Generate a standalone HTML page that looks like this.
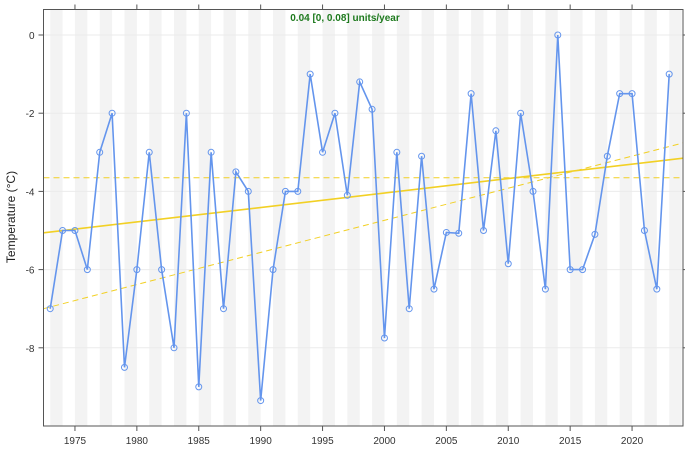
<!DOCTYPE html>
<html><head><meta charset="utf-8"><style>
body{margin:0;background:#fff;font-family:"Liberation Sans",sans-serif;}
</style></head><body>
<svg id="chart" width="685" height="449" xmlns="http://www.w3.org/2000/svg">
<g id="stripes"></g>
<g id="grid"></g>
<g id="trends"></g>
<g id="series"></g>
<g id="axes"></g>
<text x="345" y="21" text-anchor="middle" font-size="10" font-weight="bold" fill="#1e7a1e">0.04 [0, 0.08] units/year</text>
<text transform="translate(15,217) rotate(-90)" text-anchor="middle" font-size="12" fill="#222">Temperature (°C)</text>
</svg>
<script>
const years=[1973,1974,1975,1976,1977,1978,1979,1980,1981,1982,1983,1984,1985,1986,1987,1988,1989,1990,1991,1992,1993,1994,1995,1996,1997,1998,1999,2000,2001,2002,2003,2004,2005,2006,2007,2008,2009,2010,2011,2012,2013,2014,2015,2016,2017,2018,2019,2020,2021,2022,2023];
const temps=[-7,-5,-5,-6,-3,-2,-8.5,-6,-3,-6,-8,-2,-9,-3,-7,-3.5,-4,-9.35,-6,-4,-4,-1,-3,-2,-4.1,-1.2,-1.9,-7.75,-3,-7,-3.1,-6.5,-5.05,-5.07,-1.5,-5,-2.45,-5.85,-2,-4,-6.5,0,-6,-6,-5.1,-3.1,-1.5,-1.5,-5,-6.5,-1];
const xTicks=[1975,1980,1985,1990,1995,2000,2005,2010,2015,2020];
const yTicks=[0,-2,-4,-6,-8];
const trendLine=[-5.06,-3.15];
const trendUpper=[-7.0,-2.76];
const trendFlat=[-3.65,-3.65];
const L=43.5,R=683,T=9.5,B=426;
const x=v=>50.2+(v-1973)*12.38;
const y=v=>35+(-v)*39.1;
const xMin=(L-50.2)/12.38+1973, xMax=(R-50.2)/12.38+1973;
const NS="http://www.w3.org/2000/svg";
function mk(p,t,a){const e=document.createElementNS(NS,t);for(const k in a)e.setAttribute(k,a[k]);p.appendChild(e);return e;}
const st=document.getElementById('stripes');
for(let yr=1973;yr<2024;yr+=2){
 const r=mk(st,'rect',{x:x(yr),y:T,width:Math.min(x(yr+1),R)-x(yr),height:B-T,fill:'#f3f3f3'});
 
 
}
const gr=document.getElementById('grid');
yTicks.forEach(v=>{const l=mk(gr,'line',{x1:L,x2:R,y1:y(v),y2:y(v),stroke:'#ebebeb','stroke-width':1});
 
 });
const tr=document.getElementById('trends');
function tl(vals,dash,w,name){const l=mk(tr,'line',{x1:L,y1:y(vals[0]),x2:R,y2:y(vals[1]),stroke:'#f2d024','stroke-width':w});
 if(dash)l.setAttribute('stroke-dasharray',dash);
 
 }
tl(trendLine,null,1.6,'trend-line');
tl(trendUpper,'6,4',1,'trend-upper-bound');
tl(trendFlat,'6,4',1,'trend-lower-bound');
const se=document.getElementById('series');
const pl=mk(se,'polyline',{points:years.map((yr,i)=>x(yr)+','+y(temps[i])).join(' '),fill:'none',stroke:'#6495ed','stroke-width':1.6});


years.forEach((yr,i)=>{const c=mk(se,'circle',{cx:x(yr),cy:y(temps[i]),r:3,fill:'none',stroke:'#6495ed','stroke-width':1});
 
 });
const ax=document.getElementById('axes');
const fr=mk(ax,'rect',{x:L,y:T,width:R-L,height:B-T,fill:'none',stroke:'#555','stroke-width':1});


xTicks.forEach(v=>{
 mk(ax,'line',{x1:x(v),x2:x(v),y1:B,y2:B+5,stroke:'#555'});
 mk(ax,'line',{x1:x(v),x2:x(v),y1:T,y2:T-5,stroke:'#555'});
 const t=mk(ax,'text',{x:x(v),y:B+18,'text-anchor':'middle','font-size':10,fill:'#333'});t.textContent=v;
 
 
});
yTicks.forEach(v=>{
 mk(ax,'line',{x1:L,x2:L-5,y1:y(v),y2:y(v),stroke:'#555'});
 mk(ax,'line',{x1:R,x2:R+5,y1:y(v),y2:y(v),stroke:'#555'});
 const t=mk(ax,'text',{x:L-9,y:y(v)+4,'text-anchor':'end','font-size':10,fill:'#333'});t.textContent=v;
 
 
});
</script>
</body></html>
